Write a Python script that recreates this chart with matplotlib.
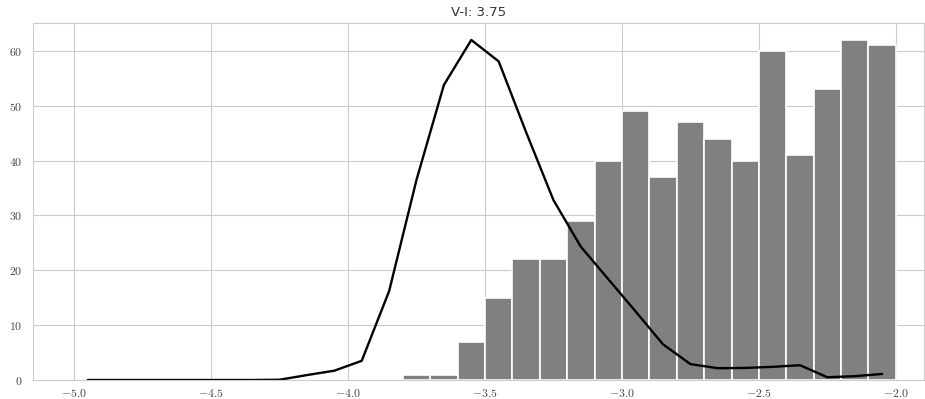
import matplotlib
matplotlib.use("Agg")
import matplotlib.pyplot as plt
import seaborn as sns
from matplotlib.ticker import FuncFormatter

sns.set_style("whitegrid")
plt.rcParams["mathtext.fontset"] = "cm"

# histogram (bin edges every 0.1 from -3.8 to -2.0)
bin_edges = [-3.8, -3.7, -3.6, -3.5, -3.4, -3.3, -3.2, -3.1, -3.0, -2.9,
             -2.8, -2.7, -2.6, -2.5, -2.4, -2.3, -2.2, -2.1, -2.0]
counts = [1, 1, 7, 15, 22, 22, 29, 40, 49, 37, 47, 44, 40, 60, 41, 53, 62, 61]

# reference curve sampled at bin centres
curve_x = [-4.95, -4.85, -4.75, -4.65, -4.55, -4.45, -4.35, -4.25, -4.15, -4.05,
           -3.95, -3.85, -3.75, -3.65, -3.55, -3.45, -3.35, -3.25, -3.15, -3.05,
           -2.95, -2.85, -2.75, -2.65, -2.55, -2.45, -2.35, -2.25, -2.15, -2.05]
curve_y = [0.0, 0.0, 0.0, 0.0, 0.0, 0.0, 0.0, 0.05, 0.9, 1.7,
           3.5, 16.2, 36.5, 53.8, 62.0, 58.1, 45.2, 32.8, 24.3, 18.4,
           12.5, 6.5, 2.9, 2.15, 2.2, 2.4, 2.7, 0.5, 0.7, 1.1]

fig = plt.figure(figsize=(9.25, 3.99), dpi=100)
ax = fig.add_axes([0.0357, 0.0476, 0.9633, 0.8948])

widths = [bin_edges[i + 1] - bin_edges[i] for i in range(len(counts))]
ax.bar(bin_edges[:-1], counts, width=widths, align="edge",
       color="#808080", edgecolor="white", linewidth=1.2)
ax.plot(curve_x, curve_y, color="black", lw=1.7)

ax.set_xlim(-5.15, -1.897)
ax.set_ylim(0, 65.1)
ax.set_xticks([-5.0, -4.5, -4.0, -3.5, -3.0, -2.5, -2.0])
ax.xaxis.set_major_formatter(FuncFormatter(lambda v, p: "$%.1f$" % v))
ax.yaxis.set_major_formatter(FuncFormatter(lambda v, p: "$%d$" % v))
ax.tick_params(labelsize=8.5, colors="#444444")
ax.tick_params(axis="x", pad=1.5)
ax.tick_params(axis="y", pad=4)
ax.set_title("V-I: 3.75", fontsize=9.5, color="#333333", pad=5)

fig.savefig("out.png", dpi=100)
